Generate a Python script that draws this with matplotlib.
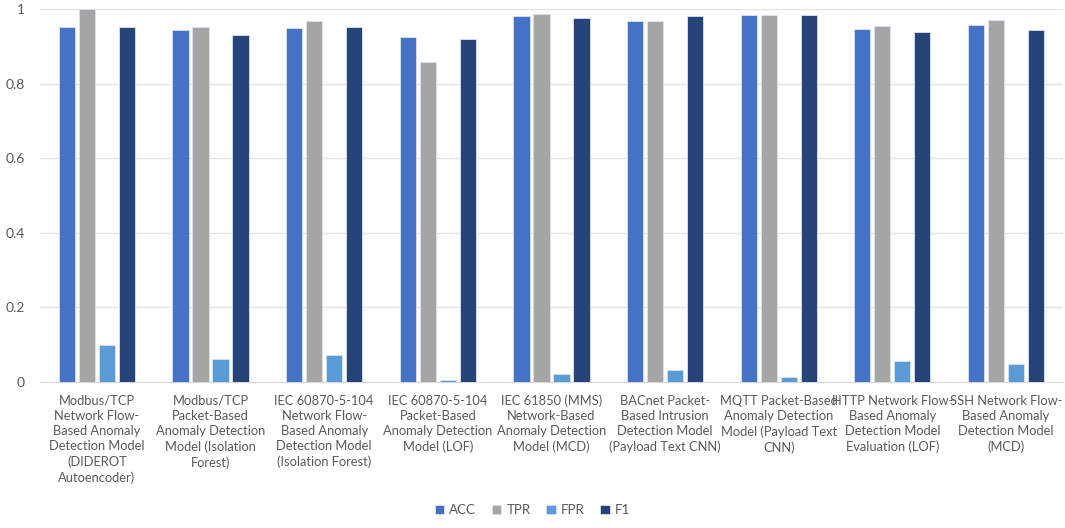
import numpy as np
import matplotlib.pyplot as plt

# model labels (wrapped as in the chart) and metric values
models = [
    "Modbus/TCP\nNetwork Flow-\nBased Anomaly\nDetection Model\n(DIDEROT\nAutoencoder)",
    "Modbus/TCP\nPacket-Based\nAnomaly Detection\nModel (Isolation\nForest)",
    "IEC 60870-5-104\nNetwork Flow-\nBased Anomaly\nDetection Model\n(Isolation Forest)",
    "IEC 60870-5-104\nPacket-Based\nAnomaly Detection\nModel (LOF)",
    "IEC 61850 (MMS)\nNetwork-Based\nAnomaly Detection\nModel (MCD)",
    "BACnet Packet-\nBased Intrusion\nDetection Model\n(Payload Text CNN)",
    "MQTT Packet-Based\nAnomaly Detection\nModel (Payload Text\nCNN)",
    "HTTP Network Flow-\nBased Anomaly\nDetection Model\nEvaluation (LOF)",
    "SSH Network Flow-\nBased Anomaly\nDetection Model\n(MCD)",
]
acc = [0.951, 0.944, 0.948, 0.925, 0.982, 0.968, 0.984, 0.946, 0.958]
tpr = [0.999, 0.951, 0.968, 0.859, 0.987, 0.968, 0.984, 0.954, 0.970]
fpr = [0.099, 0.062, 0.072, 0.005, 0.021, 0.031, 0.014, 0.057, 0.049]
f1 = [0.951, 0.930, 0.951, 0.920, 0.977, 0.982, 0.984, 0.939, 0.944]

series = [("ACC", acc, "#4472C4"), ("TPR", tpr, "#A5A5A5"),
          ("FPR", fpr, "#5B9BD5"), ("F1", f1, "#264478")]

plt.rcParams['font.family'] = ['Lato', 'DejaVu Sans']

fig = plt.figure(figsize=(10.65, 5.28), dpi=100)
ax = fig.add_axes([0.0376, 0.2765, 0.9604, 0.7065])

x = np.arange(len(models))
step = 0.176
width = 0.142
for k, (name, vals, col) in enumerate(series):
    ax.bar(x + (k - 1.5) * step, vals, width, color=col, label=name,
           edgecolor='#DCE3F0', linewidth=0.6, zorder=3)

ax.set_xlim(-0.5, len(models) - 0.5)
ax.set_ylim(0, 1)
ax.set_yticks([0, 0.2, 0.4, 0.6, 0.8, 1])
ax.set_yticklabels(["0", "0.2", "0.4", "0.6", "0.8", "1"])
ax.set_xticks(x)
ax.set_xticklabels(models, linespacing=1.32)
ax.tick_params(axis='both', length=0, labelsize=10, colors='#595959')
ax.tick_params(axis='x', pad=9, labelsize=9.3)
ax.tick_params(axis='y', pad=11)
ax.grid(axis='y', color='#E3E3E3', linewidth=1.0, zorder=0)
for s in ['top', 'right', 'left']:
    ax.spines[s].set_visible(False)
ax.spines['bottom'].set_color('#D9D9D9')

fig.legend(loc='lower center', bbox_to_anchor=(0.5, 0.0), ncol=4, frameon=False,
           fontsize=9.5, handlelength=0.7, handleheight=0.7, handletextpad=0.4,
           columnspacing=1.2, labelcolor='#595959')

fig.savefig("out.png", dpi=100)
